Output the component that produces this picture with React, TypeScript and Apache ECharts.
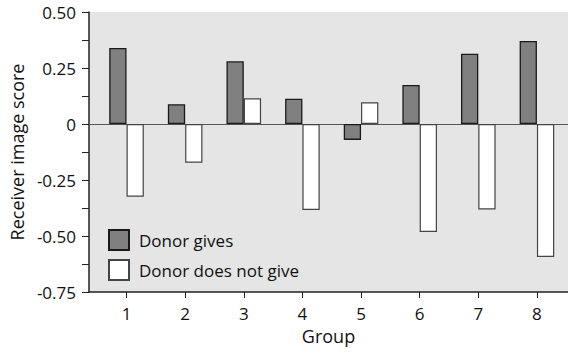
import React, { useEffect, useRef } from "react";
import * as echarts from "echarts";

const groups = [1, 2, 3, 4, 5, 6, 7, 8];
const donorGives = [0.339, 0.088, 0.28, 0.113, -0.071, 0.174, 0.314, 0.371];
const donorNotGive = [-0.325, -0.173, 0.115, -0.384, 0.097, -0.482, -0.382, -0.594];
const yTicks = [-0.75, -0.5, -0.25, 0, 0.25, 0.5];

const FONT = "Open Sans";

export default function App() {
  const ref = useRef<HTMLDivElement>(null);
  useEffect(() => {
    if (!ref.current) return;
    const chart = echarts.init(ref.current, null, { renderer: "svg" });
    chart.setOption({
      animation: false,
      backgroundColor: "#fff",
      textStyle: { fontFamily: FONT },
      grid: {
        left: 87,
        top: 12,
        width: 481,
        height: 280,
        show: true,
        backgroundColor: "#e5e5e5",
        borderWidth: 0,
      },
      legend: {
        orient: "vertical",
        left: 103,
        top: 224,
        itemWidth: 20,
        itemHeight: 20,
        itemGap: 8,
        icon: "rect",
        textStyle: { fontFamily: FONT, fontSize: 17, color: "#111", padding: [0, 0, 0, 5] },
        data: ["Donor gives", "Donor does not give"],
      },
      xAxis: {
        type: "value",
        min: 0.36,
        max: 8.53,
        name: "Group",
        nameLocation: "middle",
        nameGap: 32,
        nameTextStyle: { fontFamily: FONT, fontSize: 18, color: "#111" },
        axisLine: { show: true, onZero: false, lineStyle: { color: "#222", width: 1.5 } },
        axisTick: { show: true, length: 6, customValues: groups, lineStyle: { color: "#222" } },
        axisLabel: {
          customValues: groups,
          margin: 13,
          fontFamily: FONT,
          fontSize: 17,
          color: "#111",
        },
        splitLine: { show: false },
      },
      yAxis: {
        type: "value",
        min: yTicks[0],
        max: yTicks[yTicks.length - 1],
        interval: 0.25,
        name: "Receiver image score",
        nameLocation: "middle",
        nameGap: 61,
        nameTextStyle: { fontFamily: FONT, fontSize: 18, color: "#111" },
        axisLine: { show: true, lineStyle: { color: "#222", width: 1.5 } },
        axisTick: { show: true, length: 7, lineStyle: { color: "#222" } },
        minorTick: { show: true, splitNumber: 2, length: 7, lineStyle: { color: "#222" } },
        axisLabel: {
          margin: 13,
          fontFamily: FONT,
          fontSize: 17,
          color: "#111",
          formatter: (v: number) => (Math.abs(v) < 1e-9 ? "0" : v.toFixed(2)),
        },
        splitLine: { show: false },
        minorSplitLine: { show: false },
      },
      series: [
        {
          name: "Donor gives",
          type: "bar",
          barWidth: 17.3,
          barGap: "0%",
          data: groups.map((g, i) => [g, donorGives[i]]),
          itemStyle: { color: "#808080", borderColor: "#1a1a1a", borderWidth: 1.3 },
          markLine: {
            silent: true,
            symbol: "none",
            label: { show: false },
            lineStyle: { color: "#555", width: 1, type: "solid" },
            data: [{ yAxis: 0 }],
            z: 1,
          },
        },
        {
          name: "Donor does not give",
          type: "bar",
          barWidth: 17.3,
          barGap: "0%",
          data: groups.map((g, i) => [g, donorNotGive[i]]),
          itemStyle: { color: "#ffffff", borderColor: "#444", borderWidth: 1.2 },
        },
      ],
    });
    return () => chart.dispose();
  }, []);
  return (
    <div
      ref={ref}
      style={{ position: "fixed", left: 0, top: 0, width: 568, height: 354 }}
    />
  );
}
